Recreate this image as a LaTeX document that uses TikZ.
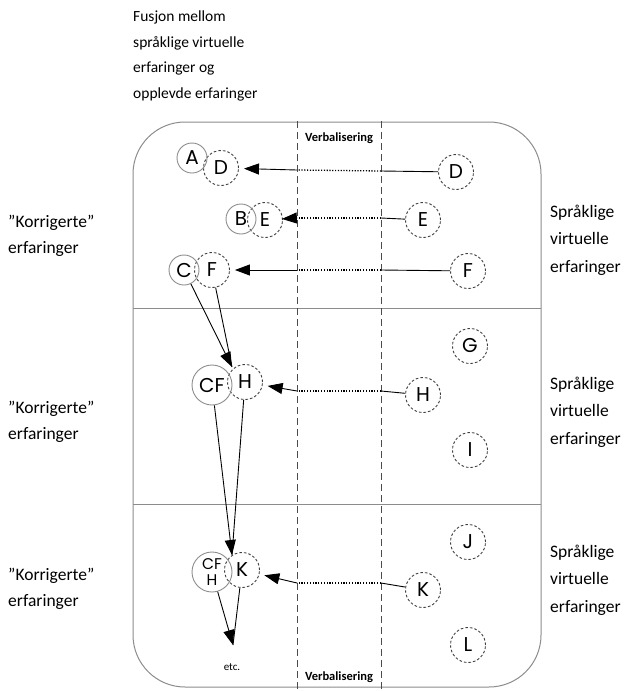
\documentclass[tikz,border=0pt]{standalone}
\usepackage{fontspec}
\setmainfont{Carlito}
\newfontfamily\circfont{Poppins}
\usetikzlibrary{arrows.meta}
\begin{document}
\begin{tikzpicture}[x=1pt,y=-1pt,
  lbl/.style={font=\fontsize{15.5}{25.5}\selectfont, align=left, inner sep=0},
  side/.style={font=\fontsize{17.5}{27.5}\selectfont, align=left, inner sep=0, anchor=west},
  sideL/.style={side, font=\fontsize{17.5}{26}\selectfont},
  solidc/.style={circle, draw=black!45, line width=0.9pt, minimum size=30pt, inner sep=0,
    font=\circfont\fontsize{20}{20}\selectfont},
  bigc/.style={solidc, minimum size=40pt},
  dashc/.style={circle, draw=black!75, line width=0.9pt, dash pattern=on 2.6pt off 2pt,
    minimum size=35pt, inner sep=0, font=\circfont\fontsize{20}{20}\selectfont},
  arr/.style={-{Triangle[length=15pt,width=11pt]}, line width=0.9pt},
  conn/.style={line width=0.9pt},
  dots/.style={line width=1.3pt, dash pattern=on 1.2pt off 1.6pt},
  vline/.style={black!70, line width=0.9pt, dash pattern=on 7pt off 4pt},
  verb/.style={font=\bfseries\fontsize{12.5}{14}\selectfont, inner sep=0}
]
\useasboundingbox (0,0) rectangle (636,691);

% frame, rows and verbalisation band
\draw[black!45, line width=1pt, rounded corners=52pt] (133,122) rectangle (541,687);
\draw[black!45, line width=1pt] (133,308) -- (541,308);
\draw[black!45, line width=1pt] (133,504) -- (541,504);
\draw[vline] (297,121) -- (297,691);
\draw[vline] (381,121) -- (381,691);
\node[verb] (vtop) at (339,138) {Verbalisering};
\node[verb] (vbot) at (339,677) {Verbalisering};

% captions
\node[lbl, anchor=north west] (title) at (133,11)
  {Fusjon mellom\\språklige virtuelle\\erfaringer og\\opplevde erfaringer};
\node[sideL] (k1) at (8,236) {”Korrigerte”\\erfaringer};
\node[sideL] (k2) at (8,422) {”Korrigerte”\\erfaringer};
\node[sideL] (k3) at (8,589) {”Korrigerte”\\erfaringer};
\node[side] (s1) at (550,240) {Språklige\\virtuelle\\erfaringer};
\node[side] (s2) at (550,412) {Språklige\\virtuelle\\erfaringer};
\node[side] (s3) at (550,580) {Språklige\\virtuelle\\erfaringer};

% row 1: experienced (solid) and verbal (dashed) experiences
\node[dashc] (dL) at (221,168) {D};
\node[solidc] (A) at (192,158) {A};
\node[dashc] (eL) at (265,220) {E};
\node[solidc] (B) at (241,219) {B};
\node[dashc] (fL) at (212,270) {F};
\node[solidc] (C) at (184,270) {C};
\node[dashc] (dR) at (456,172) {D};
\node[dashc] (eR) at (423,220) {E};
\node[dashc] (fR) at (468,271) {F};

\coordinate (d1) at (381,171);
\coordinate (d2) at (297,170);
\draw[conn] (dR) -- (d1);
\draw[dots] (d1) -- (d2);
\draw[arr, shorten >=5pt] (d2) -- (dL);

\coordinate (e1) at (381,218);
\coordinate (e2) at (297,218);
\draw[conn] (eR) -- (e1);
\draw[dots] (e1) -- (e2);
\draw[arr, shorten >=-1pt] (e2) -- (eL);

\coordinate (f1) at (381,270);
\coordinate (f2) at (297,270);
\draw[conn] (fR) -- (f1);
\draw[dots] (f1) -- (f2);
\draw[arr, shorten >=5pt] (f2) -- (fL);

% row 2
\node[dashc] (hL) at (245,382) {H};
\node[bigc] (CF) at (212,385) {CF};
\node[dashc] (G) at (470,346) {G};
\node[dashc] (hR) at (423,395) {H};
\node[dashc] (I) at (470,450) {I};

\coordinate (t1) at (232,367);
\draw[conn] (fL) -- (t1);
\draw[arr] (C) -- (t1);

\coordinate (h1) at (381,391);
\coordinate (h2) at (297,391);
\draw[conn] (hR) -- (h1);
\draw[dots] (h1) -- (h2);
\draw[arr, shorten >=5pt] (h2) -- (hL);

% row 3
\node[dashc] (kL) at (242,570) {K};
\node[bigc, align=center, font=\circfont\fontsize{15.5}{15.5}\selectfont] (CFH) at (212,572) {CF\\H};
\node[dashc] (J) at (468,542) {J};
\node[dashc] (kR) at (423,590) {K};
\node[dashc] (L) at (468,645) {L};

\coordinate (t2) at (232,555);
\draw[conn] (hL) -- (t2);
\draw[arr] (CF) -- (t2);

\coordinate (k1c) at (381,583);
\coordinate (k2c) at (297,583);
\draw[conn] (kR) -- (k1c);
\draw[dots] (k1c) -- (k2c);
\draw[arr, shorten >=5pt] (k2c) -- (kL);

\coordinate (t3) at (233,645);
\draw[conn] (kL) -- (t3);
\draw[arr] (CFH) -- (t3);
\node[font=\fontsize{11}{12}\selectfont, inner sep=0] (etc) at (232,667) {etc.};
\end{tikzpicture}
\end{document}
